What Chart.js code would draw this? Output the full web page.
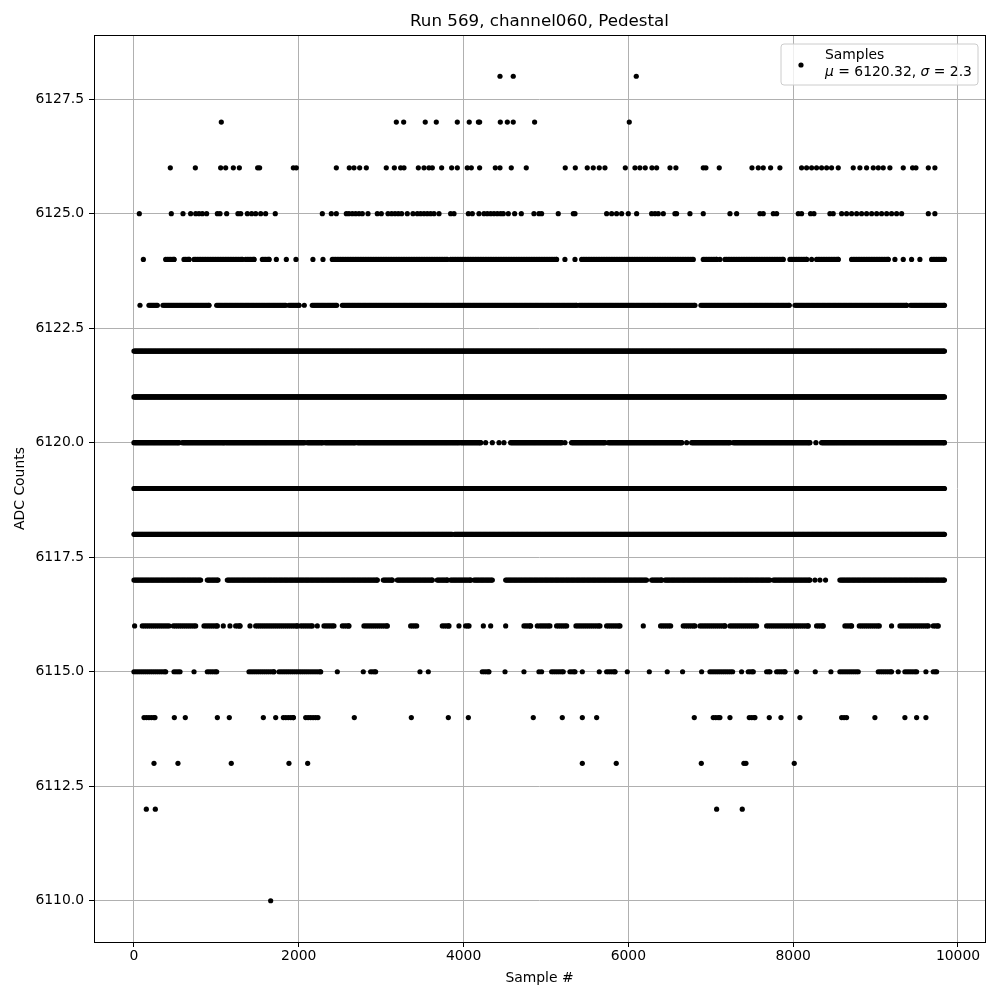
<!DOCTYPE html>
<html>
<head>
<meta charset="utf-8">
<script src="https://cdn.jsdelivr.net/npm/chart.js@4.4.0/dist/chart.umd.min.js"></script>
<style>
html, body { margin: 0; padding: 0; background: #fff; }
</style>
</head>
<body>
<canvas id="scatterchart" width="1000" height="1000"></canvas>
<script>
// sample indices read per ADC level; [a, b] = a run of consecutive samples at that level
var adc6128 = [4442, 4603, 6096];
var adc6127 = [1060, 3184, 3273, 3535, 3669, 3924, 4069, 4180, 4195, 4446, 4531, 4603, 4862, 6011];
var adc6126 = [441, 745, 1052, 1113, 1206, 1279, 1501, 1525, 1934, 1970, 2456, 2613, 2670, 2739, 2820, 3062, 3160, 3236, 3277, 3451, 3520, 3580, 3621, 3734, 3855, 3924, 4045, 4094, 4195, 4385, 4442, 4579, 4761,
	5234, 5356, 5501, 5574, 5647, 5716, 5963, 6080, 6140, 6205, 6286, 6343, 6505, 6577, 6909, 6941, 7103, 7500, 7576, 7637, 7726, 7839, 8102, 8163, 8224, 8284, 8345, 8406, 8466, 8547, 8729, 8810, 8891, 8972, 9033, 9093, 9174, 9336, 9449, 9490, 9640, 9720];
var adc6125 = [65, 453, 595, 688, 749, 789, 830, 882, 1012, 1044, 1125, 1262, 1295, 1376, 1428, 1477, 1538, 1598, 1715, 2286, 2395, 2456, 2577, 2609, 2650, 2690, 2731, 2771, 2840, 2953, 3002, 3083, 3127, 3168, 3208, 3248, 3317, 3386, 3439, 3479, 3520, 3560, 3600, 3641, 3702, 3843, 3884, 4058, 4106, 4187, 4248, 4288, 4329, 4369, 4410, 4450, 4482, 4543, 4620, 4701, 4854, 4915,
	4947, 5149, 5332, 5352, 5736, 5797, 5857, 5918, 5999, 6100, 6282, 6323, 6363, 6424, 6565, 6585, 6747, 6909, 7233, 7314, 7597, 7637, 7759, 7799, 8062, 8102, 8211, 8252, 8446, 8486, 8588, 8648, 8709, 8770, 8830, 8891, 8952, 9013, 9073, 9134, 9194, 9255, 9316, 9640, 9720];
var adc6124 = [114, [385, 486], [607, 668], [729, 1315], [1355, 1457], [1558, 1639], 1728, 1849, 1966, 2172, 2294, [2407, 3803], [3843, 5129], 5230, 5352, [5433, 6788], [6909, 7071], 7111, [7172, 7880], [7961, 8163], 8224, [8284, 8547], [8709, 9154], 9235, 9336, 9437, 9538, [9680, 9836]];
var adc6123 = [73, [182, 284], [352, 911], [1004, 1841], [1881, 2003], 2067, [2164, 2460], [2529, 5372], [5404, 6808], [6881, 7953], [8022, 9377], [9425, 9836]];
var adc6122 = [[0, 9836]];
var adc6121 = [[0, 9836]];
var adc6120 = [[0, 546], [587, 1093], [1113, 2072], [2104, 2286], [2318, 2682], [2711, 3944], [3964, 4207], 4268, 4349, 4430, 4490, [4571, 5190], 5230, [5311, 5716], [5756, 6646], 6707, [6768, 7233], [7273, 8203], 8276, [8345, 9836]];
var adc6119 = [[0, 9836]];
var adc6118 = [[0, 3860], [3890, 9836]];
var adc6117 = [[0, 809], [890, 1020], [1133, 2953], [3026, 3135], [3196, 3621], [3681, 3803], [3843, 4086], [4126, 4349], [4511, 6221], [6282, 6403], [6444, 7718], [7759, 8203], 8264, 8325, 8393, [8567, 9836]];
var adc6116 = [8, [101, 425], [478, 749], [850, 1012], 1084, 1165, [1234, 1287], 1408, [1477, 1983], [2023, 2164], 2225, [2306, 2427], [2529, 2609], [2791, 3075], [3358, 3431], [3742, 3823], 3944, [4025, 4066], 4240, 4329, 4511, [4733, 4814], 4895,
	[4927, 5048], [5129, 5251], [5364, 5655], [5736, 5898], 6181, [6391, 6513], [6666, 6808], [6869, 7172], [7233, 7556], [7678, 8183], [8284, 8365], [8628, 8709], [8802, 9045], 9194, [9296, 9640], [9700, 9761]];
var adc6115 = [[0, 385], [486, 559], 729, [890, 1004], [1396, 1699], [1760, 2266], 2468, 2783, [2872, 2933], 3471, 3572, [4227, 4308], 4503, 4733, 4915, 4947, [5069, 5210], [5291, 5352], 5441, 5647, [5736, 5837], 5987, 6254, 6472, 6658, 6889, [6990, 7265], 7374, [7455, 7516], [7678, 7718], [7799, 7900], 8042, 8268, 8458, [8567, 8790], [9033, 9194], 9275, [9356, 9498], 9611, [9700, 9741]];
var adc6114 = [[122, 255], 490, 623, 1012, 1157, 1570, 1720, [1813, 1934], [2084, 2233], 2674, 3366, 3815, 4058, 4846, 5198, 5441, 5615, 6800, [7030, 7111], 7233, [7467, 7536], 7710, 7852, 8082, [8588, 8648], 8992, 9356, 9498, 9611];
var adc6113 = [243, 534, 1181, 1881, 2108, 5441, 5853, 6885, 7402, 7427, 8013];
var adc6112 = [150, 259, 7071, 7382];
var adc6110 = [1659];

var levels = [6128, 6127, 6126, 6125, 6124, 6123, 6122, 6121, 6120, 6119, 6118, 6117, 6116, 6115, 6114, 6113, 6112, 6110];
var levelSamples = [adc6128, adc6127, adc6126, adc6125, adc6124, adc6123, adc6122, adc6121, adc6120, adc6119, adc6118, adc6117, adc6116, adc6115, adc6114, adc6113, adc6112, adc6110];
var runStep = [30, 30, 30, 30, 20, 15, 10, 10, 12, 10, 10, 15, 25, 25, 30, 30, 30, 30];

var xTicks = [0, 2000, 4000, 6000, 8000, 10000];
var yTicks = [6110, 6112.5, 6115, 6117.5, 6120, 6122.5, 6125, 6127.5];

var chartTitle = 'Run 569, channel060, Pedestal';
var seriesLabel = 'Samples';
var muValue = '6120.32';
var sigmaValue = '2.3';

var points = [];
levels.forEach(function(level, i) {
	levelSamples[i].forEach(function(s) {
		if (Array.isArray(s)) {
			for (var x = s[0]; x < s[1]; x += runStep[i]) points.push({x: x, y: level});
			points.push({x: s[1], y: level});
		} else {
			points.push({x: s, y: level});
		}
	});
});

var font = 'DejaVu Sans';
Chart.defaults.font.family = font;
Chart.defaults.color = '#000';

var decorPlugin = {
	id: 'decor',
	afterDraw: function(chart) {
		var ctx = chart.ctx, a = chart.chartArea;
		ctx.save();
		// axes frame
		ctx.strokeStyle = '#000';
		ctx.lineWidth = 1;
		ctx.strokeRect(a.left + 0.5, a.top + 0.5, a.right - a.left, a.bottom - a.top);
		// title
		ctx.fillStyle = '#000';
		ctx.font = '16.7px "' + font + '"';
		ctx.textAlign = 'center';
		ctx.textBaseline = 'middle';
		ctx.fillText(chartTitle, (a.left + a.right) / 2, 22);
		// legend
		var bx = 781, by = 44, bw = 197, bh = 41, r = 3;
		ctx.beginPath();
		ctx.moveTo(bx + r, by);
		ctx.arcTo(bx + bw, by, bx + bw, by + bh, r);
		ctx.arcTo(bx + bw, by + bh, bx, by + bh, r);
		ctx.arcTo(bx, by + bh, bx, by, r);
		ctx.arcTo(bx, by, bx + bw, by, r);
		ctx.closePath();
		ctx.fillStyle = 'rgba(255,255,255,0.8)';
		ctx.fill();
		ctx.strokeStyle = '#cccccc';
		ctx.stroke();
		ctx.fillStyle = '#000';
		ctx.beginPath();
		ctx.arc(801, 65, 2.6, 0, Math.PI * 2);
		ctx.fill();
		ctx.textAlign = 'left';
		ctx.font = '13.9px "' + font + '"';
		ctx.fillText(seriesLabel, 825, 55);
		var parts = [['\u03bc', true], [' = ' + muValue + ', ', false], ['\u03c3', true], [' = ' + sigmaValue, false]];
		var tx = 825;
		parts.forEach(function(p) {
			ctx.font = (p[1] ? 'italic ' : '') + '13.9px "' + font + '"';
			ctx.fillText(p[0], tx, 72);
			tx += ctx.measureText(p[0]).width;
		});
		ctx.restore();
	}
};

var scatterchart = {
	type: 'scatter',
	data: {
		datasets: [{
			label: seriesLabel,
			data: points,
			pointRadius: 2.6,
			pointHoverRadius: 2.6,
			pointBorderWidth: 0,
			backgroundColor: '#000',
			borderColor: '#000'
		}]
	},
	options: {
		responsive: false,
		animation: false,
		events: [],
		layout: {
			padding: {top: 35, right: 15, left: 0, bottom: 0}
		},
		plugins: {
			legend: {display: false},
			title: {display: false},
			tooltip: {enabled: false}
		},
		scales: {
			x: {
				type: 'linear',
				min: -485,
				max: 10328,
				afterFit: function(scale) { scale.height = 58; },
				afterBuildTicks: function(scale) {
					scale.ticks = xTicks.map(function(v) { return {value: v}; });
				},
				ticks: {
					font: {size: 13.9},
					padding: 1,
					maxRotation: 0,
					callback: function(v) { return String(v); }
				},
				grid: {color: '#b0b0b0', lineWidth: 1, tickColor: '#000', tickLength: 5},
				border: {display: false},
				title: {display: true, text: 'Sample #', font: {size: 13.9}, padding: {top: 4, bottom: 13}}
			},
			y: {
				type: 'linear',
				min: 6109.1,
				max: 6128.9,
				afterFit: function(scale) { scale.width = 94; },
				afterBuildTicks: function(scale) {
					scale.ticks = yTicks.map(function(v) { return {value: v}; });
				},
				ticks: {
					font: {size: 13.9},
					padding: 5,
					callback: function(v) { return v.toFixed(1); }
				},
				grid: {color: '#b0b0b0', lineWidth: 1, tickColor: '#000', tickLength: 5},
				border: {display: false},
				title: {display: true, text: 'ADC Counts', font: {size: 13.9}, padding: {top: 12, bottom: 4}}
			}
		}
	},
	plugins: [decorPlugin]
};

window.onload = function() {
	var ctx = document.getElementById('scatterchart').getContext('2d');
	window.myscatter = new Chart(ctx, scatterchart);
};
</script>
</body>
</html>
